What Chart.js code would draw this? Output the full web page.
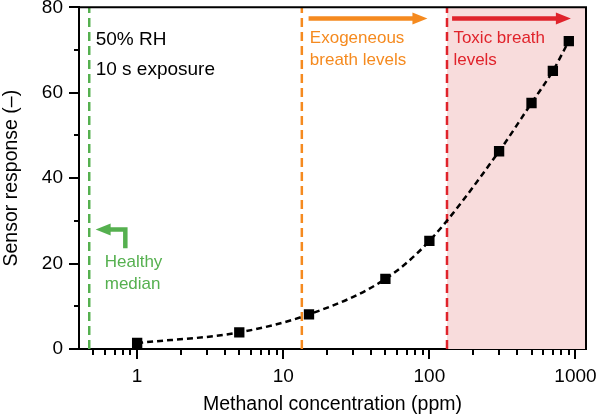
<!DOCTYPE html>
<html>
<head>
<meta charset="utf-8">
<script src="https://cdn.jsdelivr.net/npm/chart.js@4.4.1/dist/chart.umd.min.js"></script>
<style>
  html, body { margin: 0; padding: 0; background: #fff; }
  #wrap { width: 596px; height: 416px; }
</style>
</head>
<body>
<div id="wrap"><canvas id="chart" width="596" height="416"></canvas></div>
<script>
// measured sensor response vs methanol concentration
var concentration = [1, 5, 15, 50, 100, 300, 500, 700, 900];
var response = [1.4, 3.9, 8.1, 16.4, 25.3, 46.3, 57.6, 65.1, 72.1];

// reference levels (ppm)
var healthyMedian = 0.47;
var exogenousLevel = 13.4;
var toxicLevel = 132;

// axes
var X_MIN = 0.4;
var X_MAX = 1180;
var xTickLabels = [1, 10, 100, 1000];
var xMinorTicks = [0.5, 0.6, 0.7, 0.8, 0.9, 2, 3, 4, 5, 6, 7, 8, 9,
                   20, 30, 40, 50, 60, 70, 80, 90, 200, 300, 400, 500, 600, 700, 800, 900];
var yTickLabels = [0, 20, 40, 60, 80];
var yMinorTicks = [10, 30, 50, 70];

const GREEN = "#55b04f";
const ORANGE = "#f58a1f";
const RED = "#e0232b";
const FONT = "'Liberation Sans', Arial, Helvetica, sans-serif";


function drawArrow(ctx, points, color) {
    // polyline with a filled head at the last point
    var n = points.length;
    var tip = points[n - 1], prev = points[n - 2];
    var ang = Math.atan2(tip[1] - prev[1], tip[0] - prev[0]);
    var headLen = 15, headW = 6;
    var bx = tip[0] - headLen * Math.cos(ang);
    var by = tip[1] - headLen * Math.sin(ang);

    ctx.save();
    ctx.strokeStyle = color;
    ctx.fillStyle = color;
    ctx.lineWidth = 4.5;
    ctx.lineJoin = "miter";
    ctx.setLineDash([]);
    ctx.beginPath();
    ctx.moveTo(points[0][0], points[0][1]);
    for (var i = 1; i < n - 1; i++)
        ctx.lineTo(points[i][0], points[i][1]);
    ctx.lineTo(bx + 2 * Math.cos(ang), by + 2 * Math.sin(ang));
    ctx.stroke();

    ctx.beginPath();
    ctx.moveTo(tip[0], tip[1]);
    ctx.lineTo(bx - headW * Math.sin(ang), by + headW * Math.cos(ang));
    ctx.lineTo(bx + headW * Math.sin(ang), by - headW * Math.cos(ang));
    ctx.closePath();
    ctx.fill();
    ctx.restore();
}


function drawText(ctx, lines, x, y, color, size, lineGap) {
    ctx.save();
    ctx.fillStyle = color;
    ctx.font = size + "px " + FONT;
    ctx.textAlign = "left";
    ctx.textBaseline = "alphabetic";
    for (var i = 0; i < lines.length; i++)
        ctx.fillText(lines[i], x, y + i * lineGap);
    ctx.restore();
}


const extras = {
    id: "extras",
    afterDraw(chart) {
        const ctx = chart.ctx;
        const a = chart.chartArea;
        const x = chart.scales.x;
        const y = chart.scales.y;

        ctx.save();
        ctx.strokeStyle = "#000";
        ctx.lineWidth = 2;
        // top and right sides of the frame
        ctx.beginPath();
        ctx.moveTo(a.left - 1, a.top);
        ctx.lineTo(a.right, a.top);
        ctx.lineTo(a.right, a.bottom + 1);
        ctx.stroke();

        // minor ticks, shorter than the major ones
        ctx.beginPath();
        xMinorTicks.forEach(v => {
            var px = Math.round(x.getPixelForValue(v));
            ctx.moveTo(px, a.bottom);
            ctx.lineTo(px, a.bottom + 6);
        });
        yMinorTicks.forEach(v => {
            var py = Math.round(y.getPixelForValue(v));
            ctx.moveTo(a.left, py);
            ctx.lineTo(a.left - 5, py);
        });
        ctx.stroke();
        ctx.restore();

        // arrows
        drawArrow(ctx, [[x.getPixelForValue(14.9), y.getPixelForValue(77.4)],
                        [x.getPixelForValue(97), y.getPixelForValue(77.4)]], ORANGE);
        drawArrow(ctx, [[x.getPixelForValue(143), y.getPixelForValue(77.4)],
                        [x.getPixelForValue(930), y.getPixelForValue(77.4)]], RED);
        drawArrow(ctx, [[x.getPixelForValue(0.83), y.getPixelForValue(23.6)],
                        [x.getPixelForValue(0.83), y.getPixelForValue(28.0)],
                        [x.getPixelForValue(0.52), y.getPixelForValue(28.0)]], GREEN);

        // labels
        drawText(ctx, ["50% RH", "10 s exposure"],
                 x.getPixelForValue(0.52), y.getPixelForValue(71.1), "#000", 19, 30);
        drawText(ctx, ["Exogeneous", "breath levels"],
                 x.getPixelForValue(15.2), y.getPixelForValue(71.6), ORANGE, 17, 21.5);
        drawText(ctx, ["Toxic breath", "levels"],
                 x.getPixelForValue(146), y.getPixelForValue(71.6), RED, 17, 21.5);
        drawText(ctx, ["Healthy", "median"],
                 x.getPixelForValue(0.6), y.getPixelForValue(19.1), GREEN, 17, 22);
    }
};


function vLine(value, color) {
    return {
        data: [{x: value, y: 0}, {x: value, y: 80}],
        showLine: true,
        borderColor: color,
        borderWidth: 2.5,
        borderDash: [9, 5],
        pointRadius: 0,
    };
}


new Chart(document.getElementById("chart"), {
    type: "scatter",
    data: {
        datasets: [
            {
                data: concentration.map((c, i) => ({x: c, y: response[i]})),
                showLine: true,
                borderColor: "#000",
                borderWidth: 2.5,
                borderDash: [6, 4],
                cubicInterpolationMode: "monotone",
                pointStyle: "rect",
                pointRadius: 7.3,
                pointBorderWidth: 0,
                pointBackgroundColor: "#000",
            },
            vLine(healthyMedian, GREEN),
            vLine(exogenousLevel, ORANGE),
            vLine(toxicLevel, RED),
            {
                // toxic region shading
                data: [{x: toxicLevel, y: 80}, {x: X_MAX, y: 80}],
                showLine: true,
                borderWidth: 0,
                pointRadius: 0,
                fill: "origin",
                backgroundColor: "#f8dcdc",
            },
        ]
    },
    options: {
        responsive: false,
        animation: false,
        events: [],
        layout: { padding: { top: 7, right: 10, left: 0, bottom: 0 } },
        plugins: {
            legend: { display: false },
            tooltip: { enabled: false },
        },
        scales: {
            x: {
                type: "logarithmic",
                min: X_MIN,
                max: X_MAX,
                afterBuildTicks: scale => {
                    scale.ticks = xTickLabels.map(v => ({value: v, major: true}));
                },
                afterFit: scale => {
                    scale.height = 67;
                    scale.paddingLeft = 0;
                    scale.paddingRight = 0;
                },
                ticks: {
                    autoSkip: false,
                    maxRotation: 0,
                    padding: 6,
                    color: "#000",
                    font: { family: FONT, size: 19 },
                    callback: v => String(v),
                },
                grid: {
                    drawOnChartArea: false,
                    tickLength: 10,
                    color: "#000",
                    lineWidth: 2,
                },
                border: { color: "#000", width: 2 },
                title: {
                    display: true,
                    text: "Methanol concentration (ppm)",
                    color: "#000",
                    font: { family: FONT, size: 19.5 },
                    padding: 0,
                },
            },
            y: {
                min: 0,
                max: 80,
                afterBuildTicks: scale => {
                    scale.ticks = yTickLabels.map(v => ({value: v}));
                },
                afterFit: scale => {
                    scale.width = 79;
                    scale.paddingTop = 0;
                    scale.paddingBottom = 0;
                },
                ticks: {
                    padding: 6,
                    color: "#000",
                    font: { family: FONT, size: 19 },
                },
                grid: {
                    drawOnChartArea: false,
                    tickLength: 10,
                    color: "#000",
                    lineWidth: 2,
                },
                border: { color: "#000", width: 2 },
                title: {
                    display: true,
                    text: "Sensor response (–)",
                    color: "#000",
                    font: { family: FONT, size: 19.5 },
                    padding: 0,
                },
            }
        }
    },
    plugins: [extras]
});
</script>
</body>
</html>
